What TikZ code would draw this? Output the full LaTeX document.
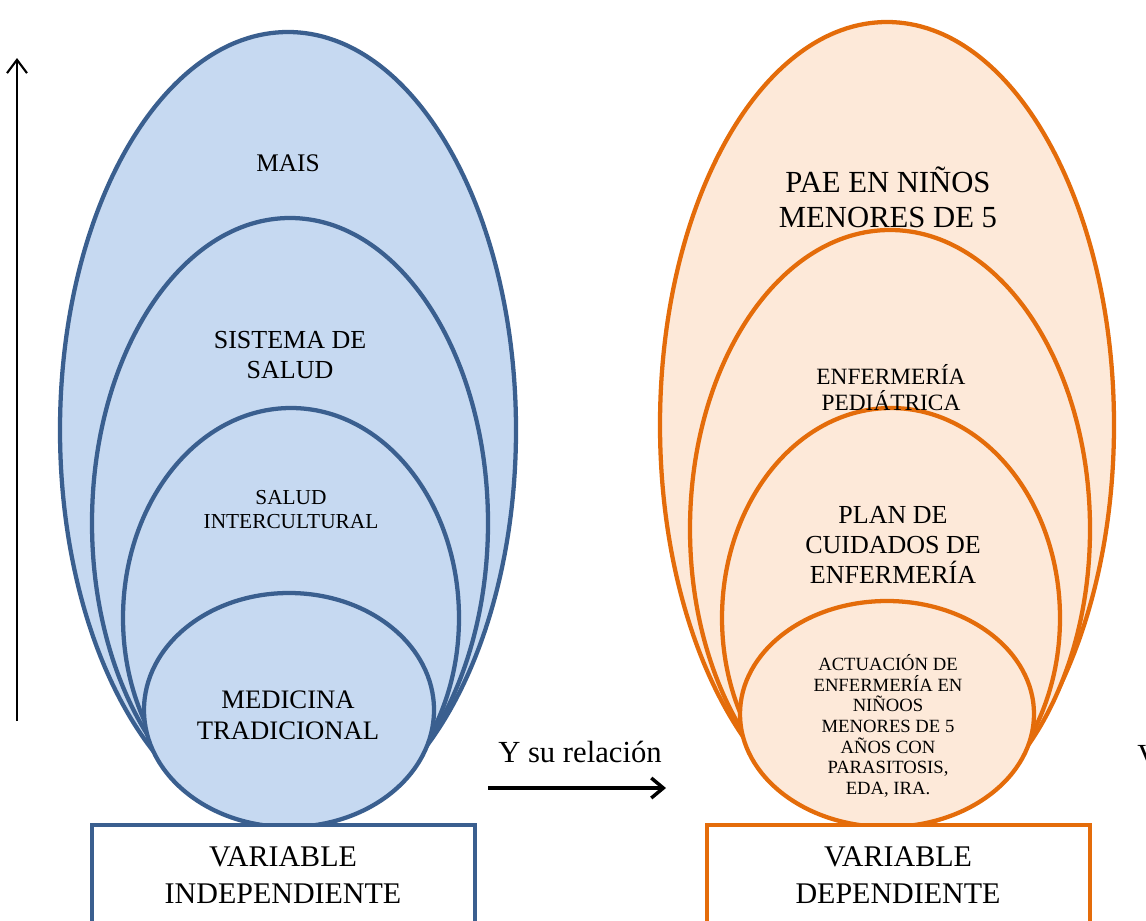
\documentclass[tikz,border=0pt]{standalone}
\usepackage{fontspec}
\setmainfont{Liberation Serif}
\usetikzlibrary{arrows.meta}

\definecolor{azulborde}{HTML}{3A5F8F}
\definecolor{azulfondo}{HTML}{C6D9F1}
\definecolor{naranjaborde}{HTML}{E46C0A}
\definecolor{naranjafondo}{HTML}{FDE9D9}

\tikzset{
  elipazul/.style={draw=azulborde, fill=azulfondo, line width=3.2pt},
  elipnaranja/.style={draw=naranjaborde, fill=naranjafondo, line width=3.2pt},
  caja/.style={draw=#1, fill=white, line width=3.2pt},
  txt/.style n args={2}{align=center, inner sep=0pt, font=\fontsize{#1}{#2}\selectfont},
}

\begin{document}
\begin{tikzpicture}[x=0.75pt,y=0.75pt,yscale=-1,xscale=1]
\useasboundingbox (0,0) rectangle (1146,921);
\clip (0,0) rectangle (1146,921);

%Ellipses, left side
\draw[elipazul] (288,430) ellipse [x radius=228, y radius=398];
\draw[elipazul] (290,523) ellipse [x radius=198, y radius=305];
\draw[elipazul] (291,618) ellipse [x radius=168, y radius=210];
\draw[elipazul] (289,710) ellipse [x radius=145, y radius=117];

%Ellipses, right side
\draw[elipnaranja] (887,425) ellipse [x radius=227, y radius=403];
\draw[elipnaranja] (890,529) ellipse [x radius=200, y radius=299];
\draw[elipnaranja] (891,618) ellipse [x radius=169, y radius=210];
\draw[elipnaranja] (887,714) ellipse [x radius=147, y radius=113];

%Boxes
\draw[caja=azulborde] (92,825) rectangle (475,950);
\draw[caja=naranjaborde] (707,825) rectangle (1090,950);

% Text Node
\draw (288,163) node[txt={19}{22}] (mais) {MAIS};
% Text Node
\draw (290,355) node[txt={19.5}{22.5}] (sistema) {SISTEMA DE\\SALUD};
% Text Node
\draw (291,510) node[txt={16}{18}] (intercultural) {SALUD\\INTERCULTURAL};
% Text Node
\draw (288,715) node[txt={20}{23}] (medicina) {MEDICINA\\TRADICIONAL};
% Text Node
\draw (888,197) node[txt={23}{26.5}] (pae) {PAE EN NIÑOS\\MENORES DE 5};
% Text Node
\draw (891,388) node[txt={17.5}{19.5}] (pediatrica) {ENFERMERÍA\\PEDIÁTRICA};
% Text Node
\draw (893,545) node[txt={19.5}{22.5}] (plan) {PLAN DE\\CUIDADOS DE\\ENFERMERÍA};
% Text Node
\draw (888,726) node[txt={14}{15.5}] (actuacion) {ACTUACIÓN DE\\ENFERMERÍA EN\\NIÑOOS\\MENORES DE 5\\AÑOS CON\\PARASITOSIS,\\EDA, IRA.};
% Text Node
\draw (283,875) node[txt={22.5}{28}] (independiente) {VARIABLE\\INDEPENDIENTE};
% Text Node
\draw (898,875) node[txt={22.5}{28}] (dependiente) {VARIABLE\\DEPENDIENTE};
% Text Node
\draw (580,752) node[txt={23}{26}] (relacion) {Y su relación};
% Text Node
\draw (1137,765) node[txt={23}{26}, anchor=base west] (cortado) {V};

%Arrows
\coordinate (vbase) at (17,721);
\coordinate (vtope) at (17,58);
\draw[line width=1.6pt, -{Straight Barb[length=10pt,width=15pt]}] (vbase) -- (vtope);
\coordinate (hini) at (488,788);
\coordinate (hfin) at (666,788);
\draw[line width=2.6pt, -{Straight Barb[length=9pt,width=15pt]}] (hini) -- (hfin);

\end{tikzpicture}
\end{document}
